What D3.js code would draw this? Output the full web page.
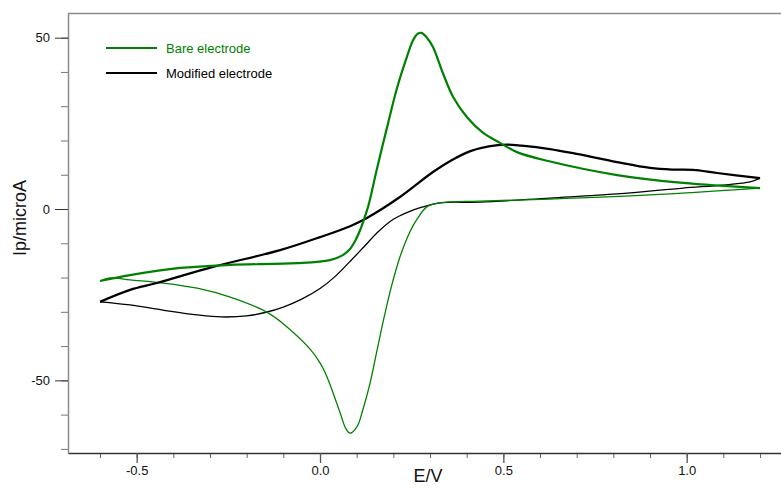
<!DOCTYPE html>
<html>
<head>
<meta charset="utf-8">
<script src="https://cdn.jsdelivr.net/npm/d3@7"></script>
<style>
  body { margin: 0; background: #fff; }
  text { font-family: "Liberation Sans", Arial, sans-serif; }
</style>
</head>
<body>
<svg id="cv" width="781" height="488"></svg>
<script>
// cyclic voltammogram, bare vs modified electrode

var seriesNames = ["Bare electrode", "Modified electrode"];
var seriesColors = ["#008000", "#000000"];

// bare electrode, forward (anodic) scan
var bareFwdE = [-0.600, -0.518, -0.382, -0.245, -0.063, 0.027, 0.060, 0.080, 0.095, 0.108, 0.120, 0.132, 0.155, 0.183, 0.210, 0.237, 0.254, 0.266, 0.277, 0.290, 0.308, 0.335, 0.363, 0.401, 0.445, 0.491, 0.537, 0.622, 0.810, 0.990, 1.200];
var bareFwdI = [-21.0, -19.3, -17.2, -16.3, -15.8, -14.9, -13.6, -11.9, -9.5, -6.5, -3.0, 1.0, 11.6, 23.9, 35.3, 44.4, 49.3, 51.1, 51.4, 50.2, 47.3, 39.7, 32.7, 26.8, 22.2, 19.3, 16.6, 14.0, 9.9, 7.6, 6.1];
// bare electrode, reverse (cathodic) scan
var bareRevE = [1.200, 0.900, 0.627, 0.436, 0.327, 0.292, 0.265, 0.245, 0.218, 0.195, 0.175, 0.155, 0.136, 0.117, 0.101, 0.082, 0.070, 0.058, 0.045, 0.030, 0.015, 0.000, -0.027, -0.090, -0.145, -0.245, -0.335, -0.428, -0.518, -0.573, -0.600];
var bareRevI = [6.1, 4.1, 2.9, 2.3, 1.8, 0.7, -2.9, -6.7, -14.0, -22.5, -31.5, -41.5, -51.0, -58.5, -63.5, -65.4, -64.0, -60.5, -56.5, -52.0, -48.0, -44.9, -40.9, -34.4, -30.1, -25.7, -23.1, -21.6, -20.7, -20.1, -21.0];

// modified electrode, forward scan
var modFwdE = [-0.600, -0.518, -0.445, -0.292, -0.109, 0.000, 0.082, 0.128, 0.218, 0.308, 0.360, 0.410, 0.460, 0.510, 0.550, 0.627, 0.690, 0.810, 0.900, 0.960, 1.017, 1.083, 1.200];
var modFwdI = [-27.1, -23.6, -21.6, -16.9, -12.0, -8.2, -5.0, -2.6, 3.5, 10.8, 14.3, 16.9, 18.3, 18.8, 18.5, 17.5, 16.3, 13.7, 12.0, 11.5, 11.4, 10.5, 9.0];
// modified electrode, reverse scan
var modRevE = [1.200, 1.173, 1.099, 0.990, 0.810, 0.627, 0.436, 0.327, 0.280, 0.240, 0.200, 0.160, 0.120, 0.080, 0.040, 0.000, -0.050, -0.100, -0.150, -0.200, -0.270, -0.335, -0.428, -0.518, -0.600];
var modRevI = [9.0, 7.9, 7.0, 6.1, 4.4, 3.2, 2.0, 1.8, 0.6, -0.9, -3.0, -6.5, -11.0, -15.5, -19.8, -23.2, -26.3, -28.6, -30.2, -31.2, -31.5, -30.9, -29.5, -28.0, -27.1];

var xMajor = [-0.5, 0.0, 0.5, 1.0];
var yMajor = [-50, 0, 50];

var svg = d3.select("#cv"),
    width = +svg.attr("width"),
    height = +svg.attr("height");

var x = d3.scaleLinear().domain([-0.6873, 1.2572]).range([68, 781]);
var y = d3.scaleLinear().domain([-71.2, 57.2]).range([453, 13]);

var xMinor = d3.range(-6, 13).map(function(d) { return d / 10; });
var yMinor = d3.range(-7, 6).map(function(d) { return d * 10; });

// top frame line
svg.append("line")
    .attr("x1", 68).attr("x2", width)
    .attr("y1", 13.5).attr("y2", 13.5)
    .attr("stroke", "#8a8a8a").attr("stroke-width", 1.5);

// minor ticks
svg.append("g")
    .attr("transform", "translate(0,453)")
    .call(d3.axisBottom(x).tickValues(xMinor).tickSize(5).tickFormat(""))
    .call(function(g) { g.select(".domain").remove(); })
    .selectAll("line").attr("stroke", "#666");

svg.append("g")
    .attr("transform", "translate(68,0)")
    .call(d3.axisLeft(y).tickValues(yMinor).tickSize(7).tickFormat(""))
    .call(function(g) { g.select(".domain").remove(); })
    .selectAll("line").attr("stroke", "#777");

// major x axis
var gx = svg.append("g")
    .attr("transform", "translate(0,453)")
    .call(d3.axisBottom(x).tickValues(xMajor).tickSize(10).tickSizeOuter(0).tickPadding(3)
      .tickFormat(d3.format(".1f")));
gx.select(".domain").attr("stroke", "#333").attr("stroke-width", 1.5);
gx.selectAll(".tick line").attr("stroke", "#555").attr("stroke-width", 1.3);
gx.selectAll(".tick text").attr("font-size", 13).attr("fill", "#111")
    .text(function(d) { return d3.format(".1f")(d).replace("−", "-"); });

// major y axis
var gy = svg.append("g")
    .attr("transform", "translate(68,0)")
    .call(d3.axisLeft(y).tickValues(yMajor).tickSize(13).tickSizeOuter(0).tickPadding(5));
gy.select(".domain").attr("stroke", "#8a8a8a").attr("stroke-width", 1.5);
gy.selectAll(".tick line").attr("stroke", "#333");
gy.selectAll(".tick text").attr("font-size", 13).attr("fill", "#111")
    .text(function(d) { return String(d); });

// axis titles
svg.append("text")
    .attr("x", 428).attr("y", 482)
    .attr("text-anchor", "middle")
    .attr("font-size", 18).attr("fill", "#111")
    .text("E/V");

svg.append("text")
    .attr("transform", "translate(26,218) rotate(-90)")
    .attr("text-anchor", "middle")
    .attr("font-size", 18).attr("fill", "#111")
    .text("Ip/microA");

// curves
var line = d3.line()
    .x(function(d) { return x(d[0]); })
    .y(function(d) { return y(d[1]); })
    .curve(d3.curveCatmullRom.alpha(0.5));

function pairs(es, is) { return es.map(function(e, i) { return [e, is[i]]; }); }

var scans = [
  { pts: pairs(modRevE, modRevI), color: seriesColors[1], w: 1.3 },
  { pts: pairs(bareRevE, bareRevI), color: seriesColors[0], w: 1.3 },
  { pts: pairs(modFwdE, modFwdI), color: seriesColors[1], w: 2.2 },
  { pts: pairs(bareFwdE, bareFwdI), color: seriesColors[0], w: 2.2 }
];

svg.append("g").selectAll("path")
  .data(scans)
  .enter().append("path")
    .attr("d", function(d) { return line(d.pts); })
    .attr("fill", "none")
    .attr("stroke", function(d) { return d.color; })
    .attr("stroke-width", function(d) { return d.w; })
    .attr("stroke-linejoin", "round");

// legend
var legend = svg.append("g").selectAll("g")
  .data(seriesNames)
  .enter().append("g")
    .attr("transform", function(d, i) { return "translate(106," + (48 + i * 25) + ")"; });

legend.append("line")
    .attr("x1", 0).attr("x2", 51)
    .attr("stroke", function(d, i) { return seriesColors[i]; })
    .attr("stroke-width", 2.2);

legend.append("text")
    .attr("x", 60).attr("dy", "0.35em")
    .attr("font-size", 13)
    .attr("fill", function(d, i) { return seriesColors[i]; })
    .text(function(d) { return d; });
</script>
</body>
</html>
